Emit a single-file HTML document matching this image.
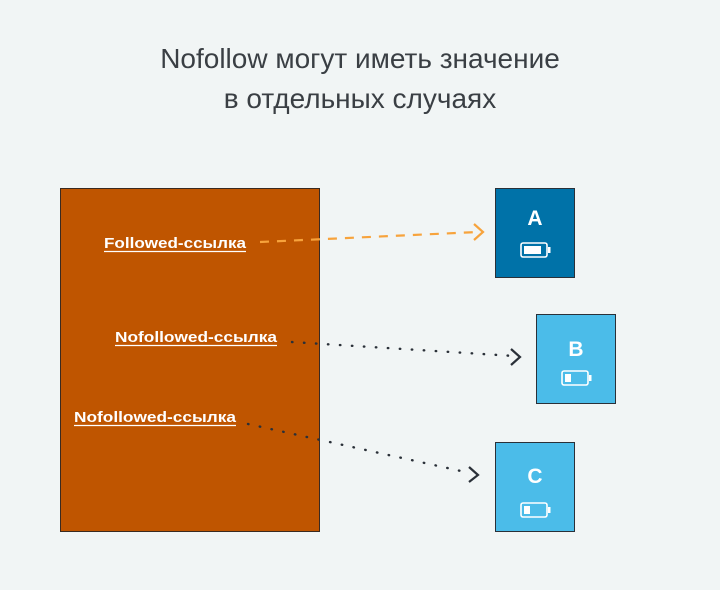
<!DOCTYPE html>
<html><head><meta charset="utf-8"><style>
html,body{margin:0;padding:0;background:#f1f5f5;}
svg{display:block;font-family:"Liberation Sans","DejaVu Sans",sans-serif;}
</style></head><body>
<svg width="720" height="590" viewBox="0 0 720 590" xmlns="http://www.w3.org/2000/svg">
<rect width="720" height="590" fill="#f1f5f5"/>
<text x="360" y="68" text-anchor="middle" font-size="28" fill="#3a3f44">Nofollow могут иметь значение</text>
<text x="360" y="108" text-anchor="middle" font-size="28" fill="#3a3f44">в отдельных случаях</text>
<rect x="60.5" y="188.5" width="259" height="343" fill="#bf5500" stroke="#3a2a20" stroke-width="1"/>
<g fill="#fff" font-size="15" font-weight="bold">
<text x="104" y="248" textLength="142" lengthAdjust="spacingAndGlyphs">Followed-ссылка</text>
<line x1="104" y1="251.5" x2="246" y2="251.5" stroke="#fff" stroke-width="1.3"/>
<text x="115" y="342" textLength="162" lengthAdjust="spacingAndGlyphs">Nofollowed-ссылка</text>
<line x1="115" y1="345.5" x2="277" y2="345.5" stroke="#fff" stroke-width="1.3"/>
<text x="74" y="422" textLength="162" lengthAdjust="spacingAndGlyphs">Nofollowed-ссылка</text>
<line x1="74" y1="425.5" x2="236" y2="425.5" stroke="#fff" stroke-width="1.3"/>
</g>
<line x1="260" y1="242" x2="478" y2="232" stroke="#f7a33c" stroke-width="2.2" stroke-dasharray="9,8"/>
<polyline points="474,224 483,232 474,240" fill="none" stroke="#f7a33c" stroke-width="2.2"/>
<line x1="292" y1="342" x2="514" y2="356" stroke="#2a3038" stroke-width="2.4" stroke-linecap="round" stroke-dasharray="0.5,11.5"/>
<polyline points="511,349 520,357 511,365" fill="none" stroke="#2a3038" stroke-width="2.2"/>
<line x1="248" y1="424" x2="470" y2="473" stroke="#2a3038" stroke-width="2.4" stroke-linecap="round" stroke-dasharray="0.5,11.5"/>
<polyline points="469,467 478,475 469,482" fill="none" stroke="#2a3038" stroke-width="2.2"/>
<g stroke="#2a3038" stroke-width="1">
<rect x="495.5" y="188.5" width="79" height="89" fill="#0072a8"/>
<rect x="536.5" y="314.5" width="79" height="89" fill="#4bbce9"/>
<rect x="495.5" y="442.5" width="79" height="89" fill="#4bbce9"/>
</g>
<g fill="#fff" font-size="21" font-weight="bold" text-anchor="middle">
<text x="535" y="225">A</text>
<text x="576" y="356">B</text>
<text x="535" y="483">C</text>
</g>
<g fill="none" stroke="#fff" stroke-width="1.6">
<rect x="521" y="243" width="26" height="14" rx="2"/>
<rect x="562" y="371" width="26" height="14" rx="2"/>
<rect x="521" y="503" width="26" height="14" rx="2"/>
</g>
<g fill="#fff">
<rect x="548" y="247" width="2.5" height="6"/>
<rect x="589" y="375" width="2.5" height="6"/>
<rect x="548" y="507" width="2.5" height="6"/>
<rect x="524" y="246" width="17" height="8"/>
<rect x="565" y="374" width="6" height="8"/>
<rect x="524" y="506" width="6" height="8"/>
</g>
</svg>
</body></html>
